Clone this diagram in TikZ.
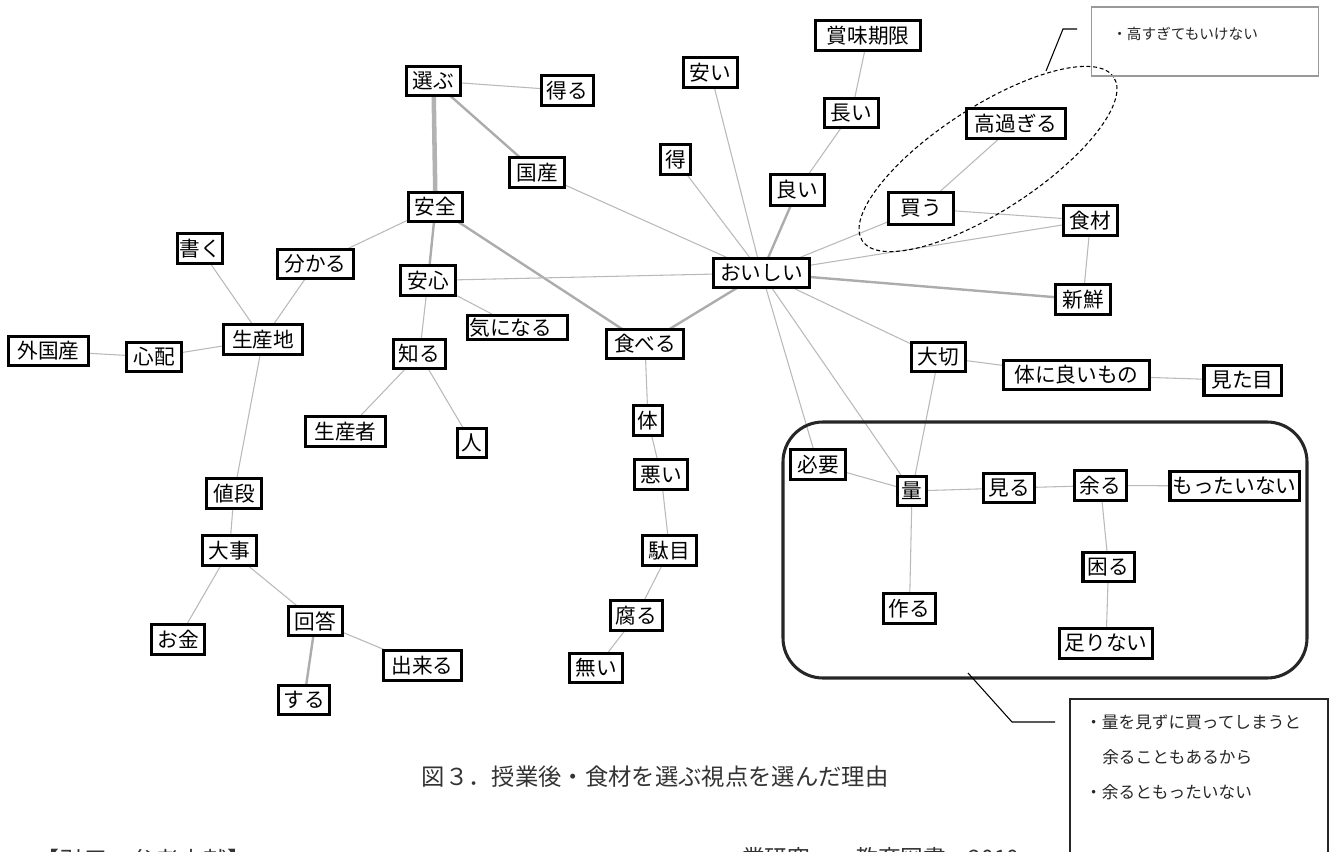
\documentclass[tikz,border=0pt]{standalone}
\usepackage{fontspec}
\setmainfont{Noto Sans CJK JP}
\newfontfamily\jp{Noto Sans CJK JP}
\usetikzlibrary{backgrounds,shapes.geometric}
\tikzset{
  kwbox/.style={draw=black, line width=2.6pt, fill=white, inner sep=0pt, font=\jp\fontsize{15.5pt}{16pt}\selectfont},
  thin edge/.style={draw=gray!55, line width=0.8pt},
  mid edge/.style={draw=gray!65, line width=1.8pt},
  thick edge/.style={draw=gray!60, line width=3.4pt},
  callout/.style={draw=black, line width=0.8pt},
  note/.style={font=\jp\fontsize{12.5pt}{14pt}\selectfont, text=black!85, inner sep=0pt, anchor=west},
}
\newcommand\kw[6]{\node[kwbox, minimum width={(#5-#3-3.5)*0.75pt}, minimum height={(#6-#4-3.5)*0.75pt}] (#1) at ({(#3+#5)/2},{(#4+#6)/2}) {#2};}
\begin{document}
\begin{tikzpicture}[x=0.75pt,y=-0.75pt]
\useasboundingbox (0,0) rectangle (1341,852);
% nodes
\kw{erabu}{選ぶ}{405}{65}{462}{97}
\kw{eru}{得る}{540}{74}{595}{107}
\kw{kokusan}{国産}{508}{156}{566}{189}
\kw{yasui}{安い}{682}{56}{739}{89}
\kw{toku}{得}{659}{143}{692}{176}
\kw{shoumi}{賞味期限}{814}{19}{922}{52}
\kw{nagai}{長い}{823}{97}{880}{129}
\kw{yoi}{良い}{769}{173}{826}{207}
\kw{oishii}{おいしい}{712}{257}{811}{289}
\kw{takasugi}{高過ぎる}{965}{107}{1067}{140}
\kw{kau}{買う}{887}{191}{955}{226}
\kw{shokuzai}{食材}{1062}{204}{1119}{237}
\kw{shinsen}{新鮮}{1054}{283}{1112}{316}
\kw{anzen}{安全}{407}{191}{464}{223}
\kw{kaku}{書く}{176}{232}{224}{265}
\kw{wakaru}{分かる}{276}{248}{355}{280}
\kw{anshin}{安心}{399}{264}{457}{297}
\kw{gaikoku}{外国産}{7}{335}{90}{367}
\kw{shinpai}{心配}{125}{341}{183}{373}
\kw{seisanchi}{生産地}{222}{323}{304}{356}
\kw{shiru}{知る}{392}{338}{447}{370}
\kw{seisansha}{生産者}{304}{415}{387}{448}
\kw{nedan}{値段}{205}{477}{263}{510}
\kw{daiji}{大事}{201}{534}{258}{567}
\kw{kininaru}{\makebox[72pt][l]{気になる}}{466}{314}{569}{341}
\kw{taberu}{食べる}{605}{328}{685}{360}
\kw{hito}{人}{456}{427}{488}{459}
\kw{karada}{体}{632}{404}{664}{437}
\kw{warui}{悪い}{633}{458}{689}{491}
\kw{dame}{駄目}{641}{534}{698}{567}
\kw{kusaru}{腐る}{609}{599}{664}{632}
\kw{nai}{無い}{568}{652}{624}{684}
\kw{hitsuyou}{必要}{789}{448}{847}{481}
\kw{taisetsu}{大切}{910}{341}{967}{373}
\kw{karadaniyoi}{体に良いもの}{1002}{359}{1151}{391}
\kw{mitame}{見た目}{1202}{364}{1283}{397}
\kw{ryou}{量}{896}{475}{928}{507}
\kw{miru}{見る}{982}{472}{1036}{504}
\kw{amaru}{余る}{1073}{469}{1128}{502}
\kw{mottainai}{もったいない}{1168}{470}{1301}{502}
\kw{komaru}{困る}{1081}{551}{1136}{583}
\kw{tsukuru}{作る}{882}{592}{937}{625}
\kw{tarinai}{足りない}{1058}{627}{1154}{660}
\kw{okane}{お金}{150}{623}{206}{656}
\kw{kaitou}{回答}{287}{605}{344}{637}
\kw{dekiru}{出来る}{382}{649}{463}{682}
\kw{suru}{する}{277}{684}{331}{716}
% edges
\begin{scope}[on background layer]
\path[thick edge] (erabu.center) -- (anzen.center);
\path[mid edge] (erabu.center) -- (kokusan.center);
\path[thin edge] (erabu.center) -- (eru.center);
\path[thin edge] (anzen.center) -- (wakaru.center);
\path[mid edge] (anzen.center) -- (anshin.center);
\path[mid edge] (anzen.center) -- (taberu.center);
\path[thin edge] (kokusan.center) -- (oishii.center);
\path[thin edge] (toku.center) -- (oishii.center);
\path[thin edge] (yasui.center) -- (oishii.center);
\path[mid edge] (yoi.center) -- (oishii.center);
\path[thin edge] (nagai.center) -- (yoi.center);
\path[thin edge] (shoumi.center) -- (nagai.center);
\path[thin edge] (oishii.center) -- (kau.center);
\path[thin edge] (oishii.center) -- (shokuzai.center);
\path[thin edge] (kau.center) -- (shokuzai.center);
\path[thin edge] (kau.center) -- (takasugi.center);
\path[thin edge] (shokuzai.center) -- (shinsen.center);
\path[mid edge] (oishii.center) -- (shinsen.center);
\path[thin edge] (anshin.center) -- (oishii.center);
\path[thin edge] (anshin.center) -- (kininaru.center);
\path[thin edge] (anshin.center) -- (shiru.center);
\path[mid edge] (oishii.center) -- (taberu.center);
\path[thin edge] (taberu.center) -- (karada.center);
\path[thin edge] (karada.center) -- (warui.center);
\path[thin edge] (warui.center) -- (dame.center);
\path[thin edge] (dame.center) -- (kusaru.center);
\path[thin edge] (kusaru.center) -- (nai.center);
\path[thin edge] (shiru.center) -- (seisansha.center);
\path[thin edge] (shiru.center) -- (hito.center);
\path[thin edge] (kaku.center) -- (seisanchi.center);
\path[thin edge] (wakaru.center) -- (seisanchi.center);
\path[thin edge] (seisanchi.center) -- (shinpai.center);
\path[thin edge] (shinpai.center) -- (gaikoku.center);
\path[thin edge] (seisanchi.center) -- (nedan.center);
\path[thin edge] (nedan.center) -- (daiji.center);
\path[thin edge] (daiji.center) -- (okane.center);
\path[thin edge] (daiji.center) -- (kaitou.center);
\path[mid edge] (kaitou.center) -- (suru.center);
\path[thin edge] (kaitou.center) -- (dekiru.center);
\path[thin edge] (oishii.center) -- (taisetsu.center);
\path[thin edge] (oishii.center) -- (hitsuyou.center);
\path[thin edge] (oishii.center) -- (ryou.center);
\path[thin edge] (taisetsu.center) -- (karadaniyoi.center);
\path[thin edge] (karadaniyoi.center) -- (mitame.center);
\path[thin edge] (taisetsu.center) -- (ryou.center);
\path[thin edge] (hitsuyou.center) -- (ryou.center);
\path[thin edge] (ryou.center) -- (miru.center);
\path[thin edge] (miru.center) -- (amaru.center);
\path[thin edge] (amaru.center) -- (mottainai.center);
\path[thin edge] (amaru.center) -- (komaru.center);
\path[thin edge] (komaru.center) -- (tarinai.center);
\path[thin edge] (ryou.center) -- (tsukuru.center);
\end{scope}
% dashed ellipse group
\node[ellipse, draw=black, dashed, dash pattern=on 3pt off 2pt, line width=0.8pt, minimum width=225pt, minimum height=78pt, inner sep=0pt, rotate=33] (ell) at (988,159) {};
% rounded group box
\draw[draw=black!85, line width=2.3pt, rounded corners=30pt] (783,422) rectangle (1307,678);
% callout boxes
\node[draw=gray!80, line width=0.8pt, minimum width={227*0.75pt}, minimum height={69*0.75pt}, inner sep=0pt] (note1) at (1205,41.5) {};
\node[note, font=\jp\fontsize{11pt}{12pt}\selectfont] (note1t) at (1112,34) {・高すぎてもいけない};
\node[draw=black!85, line width=1pt, minimum width={258*0.75pt}, minimum height={260*0.75pt}, inner sep=0pt] (note2) at (1199,829) {};
\node[note] (n2a) at (1085,722) {・量を見ずに買ってしまうと};
\node[note] (n2b) at (1102,757) {余ることもあるから};
\node[note] (n2c) at (1085,792) {・余るともったいない};
% callout lines
\coordinate (c1a) at (1077,29);
\coordinate (c1b) at (1063,29);
\coordinate (c1c) at (1046,71);
\draw[callout] (c1a) -- (c1b) -- (c1c);
\coordinate (c2a) at (968,673);
\coordinate (c2b) at (1012,722);
\coordinate (c2c) at (1055,722);
\draw[callout] (c2a) -- (c2b) -- (c2c);
% caption
\node[font=\jp\fontsize{17.5pt}{18pt}\selectfont, text=black!80, inner sep=0pt] (cap) at (655,777) {図３．授業後・食材を選ぶ視点を選んだ理由};
\node[font=\jp\fontsize{18pt}{18pt}\selectfont, text=black!80, inner sep=0pt, anchor=base west] (ref1) at (35,869) {【引用・参考文献】};
\node[font=\jp\fontsize{17pt}{18pt}\selectfont, text=black!80, inner sep=0pt, anchor=base west] (ref2) at (742,866) {業研究』　教育図書　2010};
\end{tikzpicture}
\end{document}
